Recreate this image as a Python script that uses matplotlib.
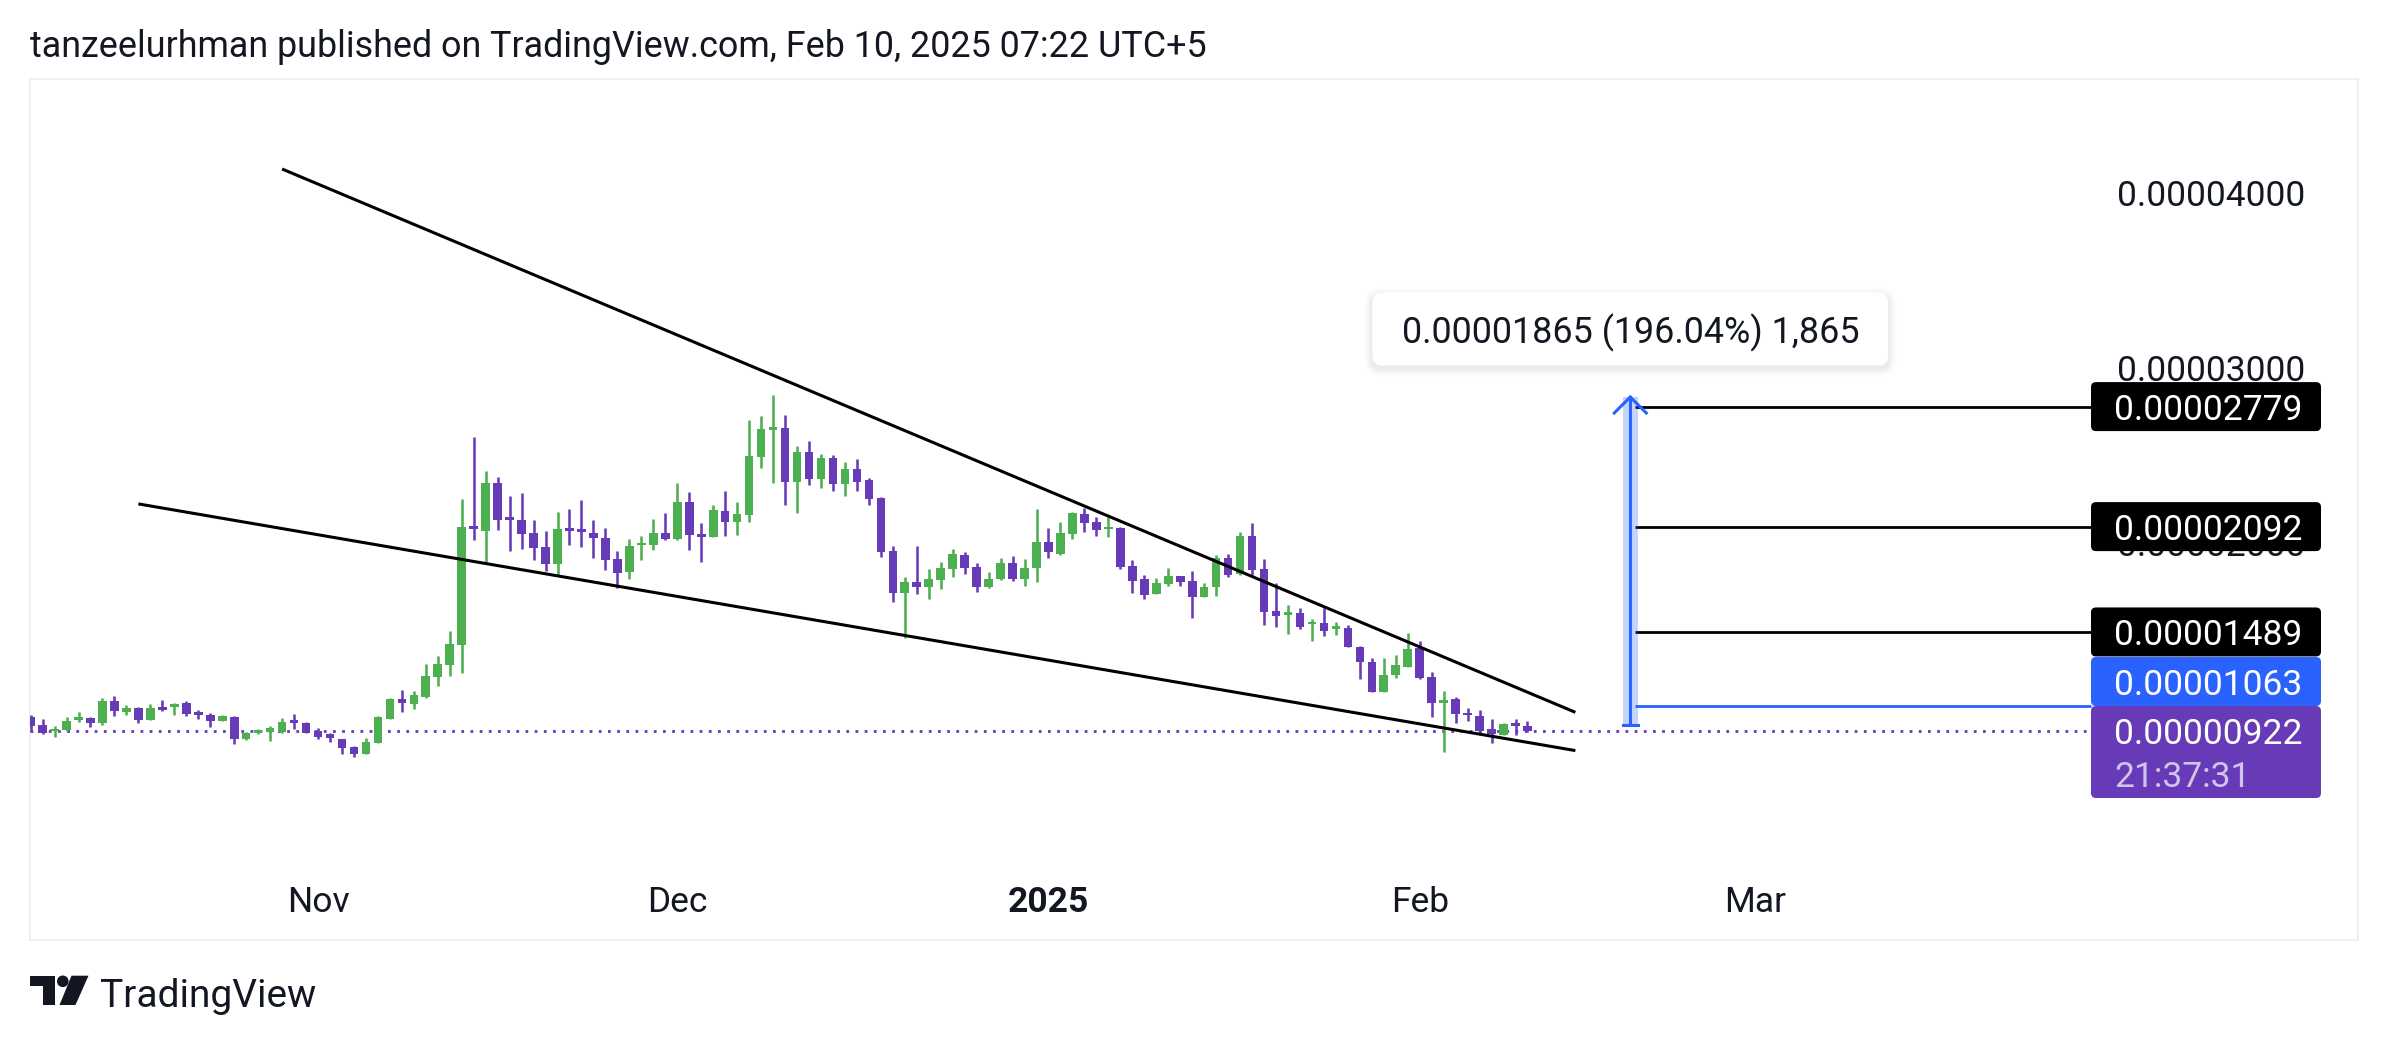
import numpy as np
import pandas as pd
import matplotlib
matplotlib.use("Agg")
import matplotlib.pyplot as plt
import matplotlib.dates as mdates
from matplotlib.patches import FancyBboxPatch, Rectangle, Circle, Polygon
from matplotlib.transforms import IdentityTransform
from matplotlib.ticker import FuncFormatter
from matplotlib.lines import Line2D

plt.rcParams['font.family'] = ['Roboto', 'DejaVu Sans']

# ---------------- data (prices in units of 1e-8) ----------------
UNIT = 1e-8
dates = pd.date_range('2024-10-08', '2025-02-10', freq='D')

opens = [1000, 956, 920, 928, 985, 998, 966, 1094, 1033, 1052, 985, 1061, 1061, 1080, 1033, 1014, 981, 1004, 876, 913,
         918, 918, 985, 970, 922, 903, 876, 829, 790, 855, 991, 1103, 1077, 1119, 1233, 1300, 1415, 2096, 2069, 2344,
         2145, 2130, 2054, 1977, 1878, 2086, 2079, 2054, 2029, 1907, 1831, 1985, 1989, 2054, 2021, 2231, 2050, 2031, 2183, 2121,
         2159, 2492, 2645, 2655, 2350, 2521, 2365, 2487, 2338, 2420, 2359, 2254, 1952, 1710, 1777, 1744, 1786, 1849, 1929, 1863,
         1744, 1790, 1885, 1790, 1853, 2002, 1935, 2049, 2162, 2116, 2076, 2086, 1866, 1790, 1704, 1764, 1809, 1783, 1687, 1748,
         1910, 1819, 2038, 1849, 1611, 1586, 1600, 1533, 1542, 1508, 1510, 1405, 1319, 1147, 1243, 1290, 1395, 1233, 1080, 1105,
         1027, 1008, 932, 899, 970, 951]
highs = [1014, 991, 951, 1004, 1033, 1004, 1113, 1122, 1071, 1061, 1077, 1100, 1084, 1096, 1042, 1023, 1012, 1008, 916, 935,
         951, 995, 1019, 976, 937, 909, 876, 836, 884, 1008, 1111, 1157, 1151, 1304, 1352, 1495, 2250, 2607, 2412, 2378,
         2267, 2283, 2130, 2067, 2174, 2193, 2245, 2130, 2082, 1953, 2019, 2039, 2136, 2168, 2340, 2292, 2111, 2214, 2298, 2235,
         2702, 2725, 2848, 2731, 2554, 2582, 2508, 2500, 2463, 2477, 2368, 2263, 1981, 1801, 1981, 1849, 1891, 1962, 1948, 1882,
         1834, 1910, 1924, 1904, 2193, 2082, 2120, 2177, 2200, 2149, 2149, 2091, 1901, 1815, 1796, 1853, 1809, 1838, 1767, 1930,
         1935, 2059, 2111, 1905, 1767, 1643, 1624, 1561, 1628, 1545, 1529, 1411, 1338, 1338, 1357, 1481, 1437, 1260, 1151, 1115,
         1052, 1042, 989, 970, 989, 979]
lows = [918, 905, 890, 924, 976, 947, 956, 1008, 1014, 970, 985, 1038, 1014, 1008, 991, 947, 977, 848, 871, 903,
        867, 913, 932, 909, 876, 861, 790, 775, 790, 855, 991, 1033, 1048, 1109, 1180, 1237, 1256, 2016, 1886, 2073,
        1955, 1964, 1901, 1838, 1815, 1987, 1977, 1914, 1844, 1739, 1792, 1901, 1958, 2016, 2016, 1958, 1892, 2031, 2039, 2044,
        2121, 2430, 2344, 2216, 2172, 2330, 2311, 2298, 2269, 2298, 2215, 1920, 1662, 1452, 1704, 1676, 1733, 1801, 1819, 1716,
        1738, 1786, 1782, 1754, 1777, 1914, 1929, 2019, 2063, 2040, 2034, 1849, 1710, 1676, 1704, 1754, 1754, 1571, 1687, 1695,
        1806, 1815, 1815, 1529, 1519, 1477, 1504, 1439, 1468, 1470, 1401, 1218, 1143, 1147, 1227, 1287, 1218, 1004, 804, 970,
        981, 918, 852, 899, 899, 915]
closes = [950, 909, 935, 981, 1000, 966, 1096, 1037, 1052, 985, 1054, 1042, 1075, 1019, 1014, 981, 1008, 876, 909, 928,
          937, 976, 966, 913, 890, 880, 823, 789, 861, 1000, 1107, 1080, 1128, 1237, 1306, 1418, 2090, 2080, 2344, 2130,
          2130, 2050, 1972, 1878, 2079, 2069, 2063, 2025, 1901, 1829, 1983, 2000, 2054, 2019, 2231, 2044, 2031, 2187, 2121, 2164,
          2496, 2651, 2660, 2350, 2521, 2365, 2487, 2338, 2421, 2349, 2248, 1948, 1710, 1777, 1744, 1790, 1853, 1935, 1857, 1744,
          1790, 1885, 1790, 1853, 2002, 1945, 2053, 2168, 2114, 2072, 2091, 1859, 1783, 1700, 1771, 1809, 1777, 1691, 1748, 1914,
          1815, 2038, 1844, 1605, 1580, 1605, 1516, 1548, 1496, 1522, 1405, 1315, 1147, 1243, 1300, 1392, 1224, 1080, 1100, 1019,
          1014, 924, 905, 962, 951, 922]

# trend lines (drawings)
upper_line_dates = ['2024-10-29', '2025-02-14']
upper_line_prices = [4139, 1029]
lower_line_dates = ['2024-10-17', '2025-02-14']
lower_line_prices = [2222, 810]

# horizontal levels
level_prices = [2779, 2092, 1489]
level_labels = ['0.00002779', '0.00002092', '0.00001489']
level_start = '2025-02-19'
blue_level = 1063
blue_label = '0.00001063'
last_price = 922
last_label = '0.00000922'
countdown = '21:37:31'

# price-range measurement
range_date = '2025-02-18 14:00'
range_start, range_end = 955, 2834
range_text = '0.00001865 (196.04%) 1,865'

y_ticks = [2000, 3000, 4000]
x_tick_dates = ['2024-11-01', '2024-12-01', '2025-01-01', '2025-02-01', '2025-03-01']
x_tick_labels = ['Nov', 'Dec', '2025', 'Feb', 'Mar']

header = 'tanzeelurhman published on TradingView.com, Feb 10, 2025 07:22 UTC+5'

# ---------------- style ----------------
GREEN = '#4caf50'
PURPLE = '#673ab7'
BLUE = '#2962ff'
TXT = '#131722'
FS = 25.5

W, H = 2388, 1044
fig = plt.figure(figsize=(W / 100, H / 100), dpi=100)
fig.patch.set_facecolor('white')

AX_L, AX_R, AX_T, AX_B = 30.5, 2357.6, 79.2, 939.7
ax = fig.add_axes([AX_L / W, 1 - AX_B / H, (AX_R - AX_L) / W, (AX_B - AX_T) / H])
ax.set_facecolor('white')
for s in ax.spines.values():
    s.set_color('#e9ecf1')
    s.set_linewidth(1.2)

nov1 = mdates.date2num(pd.Timestamp('2024-11-01'))
ax.set_xlim(nov1 - 24.01, nov1 + 170.32)
ax.set_ylim(-272.5 * UNIT, 4653 * UNIT)

x = mdates.date2num(dates)
o = np.array(opens) * UNIT
h = np.array(highs) * UNIT
l = np.array(lows) * UNIT
c = np.array(closes) * UNIT
cols = np.where(c >= o, GREEN, PURPLE)

ax.vlines(x, l, h, colors=cols, linewidth=1.85, zorder=3)
body_b = np.minimum(o, c)
body_h = np.maximum(np.abs(c - o), 9 * UNIT)
ax.bar(x, body_h, bottom=body_b, width=0.72, color=cols, linewidth=0, zorder=4)

# trend lines
ax.plot(mdates.date2num(pd.to_datetime(upper_line_dates)), np.array(upper_line_prices) * UNIT,
        color='black', lw=2.2, zorder=5, solid_capstyle='butt')
ax.plot(mdates.date2num(pd.to_datetime(lower_line_dates)), np.array(lower_line_prices) * UNIT,
        color='black', lw=2.2, zorder=5, solid_capstyle='butt')

# label box geometry
BOX_X0, BOX_X1 = 2091, 2321
xl0, xl1 = ax.get_xlim()
box_left_data = xl0 + (BOX_X0 - AX_L) / (AX_R - AX_L) * (xl1 - xl0)

lvl_x0 = mdates.date2num(pd.Timestamp(level_start)) - 0.06
ax.hlines(np.array(level_prices) * UNIT, lvl_x0, box_left_data, colors='black', lw=2.0, zorder=5)
ax.hlines(blue_level * UNIT, lvl_x0, box_left_data, colors=BLUE, lw=2.0, zorder=5)
ax.hlines(last_price * UNIT, xl0, box_left_data, colors=PURPLE, lw=2.0,
          linestyles=(0, (1, 2.3)), zorder=2)

# range measurement
rx = mdates.date2num(pd.Timestamp(range_date))
ax.add_patch(Rectangle((rx - 0.6, range_start * UNIT), 1.25, (range_end - range_start) * UNIT,
                       facecolor=BLUE, alpha=0.27, edgecolor='none', zorder=5))
ax.plot([rx, rx], [range_start * UNIT, range_end * UNIT], color=BLUE, lw=2.2, zorder=6)

# ---------------- ticks ----------------
ax.yaxis.tick_right()
ax.set_yticks(np.array(y_ticks) * UNIT)
ax.yaxis.set_major_formatter(FuncFormatter(lambda v, p: f"{v:.8f}"))
ax.tick_params(axis='y', length=0, pad=-(AX_R - 2117) * 0.72, labelsize=FS, labelcolor=TXT)
ax.set_xticks(mdates.date2num(pd.to_datetime(x_tick_dates)))
ax.set_xticklabels(x_tick_labels)
ax.tick_params(axis='x', length=0, pad=-54 * 0.72, labelsize=FS, labelcolor=TXT)
for t in ax.get_xticklabels():
    if t.get_text() == '2025':
        t.set_fontweight('bold')

# ---------------- pixel-space overlays ----------------
ID = IdentityTransform()


def ypx(price):
    return ax.transData.transform((xl0, price * UNIT))[1]


def xpx(xd):
    return ax.transData.transform((xd, 0))[0]


def pbox(y_top_disp, height, color):
    fig.add_artist(FancyBboxPatch((BOX_X0, y_top_disp - height), BOX_X1 - BOX_X0, height,
                                  boxstyle='round,pad=0,rounding_size=5', facecolor=color,
                                  edgecolor='none', transform=ID, zorder=10))


def ptext(y_disp, s, color='white'):
    fig.text(2114, y_disp, s, transform=ID, color=color, fontsize=FS, ha='left',
             va='center_baseline', zorder=11)


BH = 49
# last price (two-line)
y922 = ypx(last_price)
top922 = y922 + 25
pbox(top922, 92, PURPLE)
ptext(y922, last_label)
ptext(y922 - 43, countdown, color='#d1c4e9')
# blue level, stacked above
yb = max(ypx(blue_level), top922 + BH / 2)
pbox(yb + BH / 2, BH, BLUE)
ptext(yb, blue_label)
prev_top = yb + BH / 2
for p, s in sorted(zip(level_prices, level_labels)):
    yc = max(ypx(p), prev_top + BH / 2)
    pbox(yc + BH / 2, BH, 'black')
    ptext(yc, s)
    prev_top = yc + BH / 2

# arrow head & bottom tick
ax_x = xpx(rx)
ytop = ypx(range_end)
ybot = ypx(range_start)
fig.add_artist(Line2D([ax_x - 16, ax_x, ax_x + 16], [ytop - 16, ytop, ytop - 16], color=BLUE, lw=2.2,
                      transform=ID, zorder=7, solid_joinstyle='miter'))
fig.add_artist(Line2D([ax_x - 7.5, ax_x + 7.5], [ybot, ybot], color=BLUE, lw=2.2, transform=ID, zorder=7))

# measurement label with shadow
mcx, mcy = ax_x, ytop + 68
mw, mh = 516, 73
for k, a in [(8, 0.018), (6, 0.025), (4, 0.035), (2, 0.05)]:
    fig.add_artist(FancyBboxPatch((mcx - mw / 2 - k, mcy - mh / 2 - k - 3), mw + 2 * k, mh + 2 * k,
                                  boxstyle='round,pad=0,rounding_size=%d' % (10 + k), facecolor='#606a80',
                                  alpha=a, edgecolor='none', transform=ID, zorder=8))
fig.add_artist(FancyBboxPatch((mcx - mw / 2, mcy - mh / 2), mw, mh, boxstyle='round,pad=0,rounding_size=10',
                              facecolor='white', edgecolor='none', transform=ID, zorder=9))
fig.text(mcx, mcy, range_text, transform=ID, fontsize=25.8, color=TXT, ha='center', va='center_baseline', zorder=10)

# header
fig.text(30 / W, 1 - 57 / H, header, fontsize=25.8, color=TXT, ha='left', va='baseline')

# TradingView logo + wordmark (pixel coords, y measured from top)
def P(xp, yp):
    return (xp, H - yp)


LOGO = '#131722'
fig.add_artist(Polygon([P(30, 975.7), P(55, 975.7), P(55, 1005), P(42.7, 1005), P(42.7, 986), P(30, 986)],
                       closed=True, facecolor=LOGO, edgecolor='none', transform=ID))
fig.add_artist(Circle(P(62.8, 981.3), 5.8, facecolor=LOGO, edgecolor='none', transform=ID))
fig.add_artist(Polygon([P(71.5, 975.7), P(88.5, 975.7), P(75.5, 1005), P(59.5, 1005)],
                       closed=True, facecolor=LOGO, edgecolor='none', transform=ID))
fig.text(100 / W, 1 - 1006.7 / H, 'TradingView', fontsize=28.0, color=LOGO, ha='left', va='baseline')

fig.savefig('out.png', dpi=100, facecolor='white')
